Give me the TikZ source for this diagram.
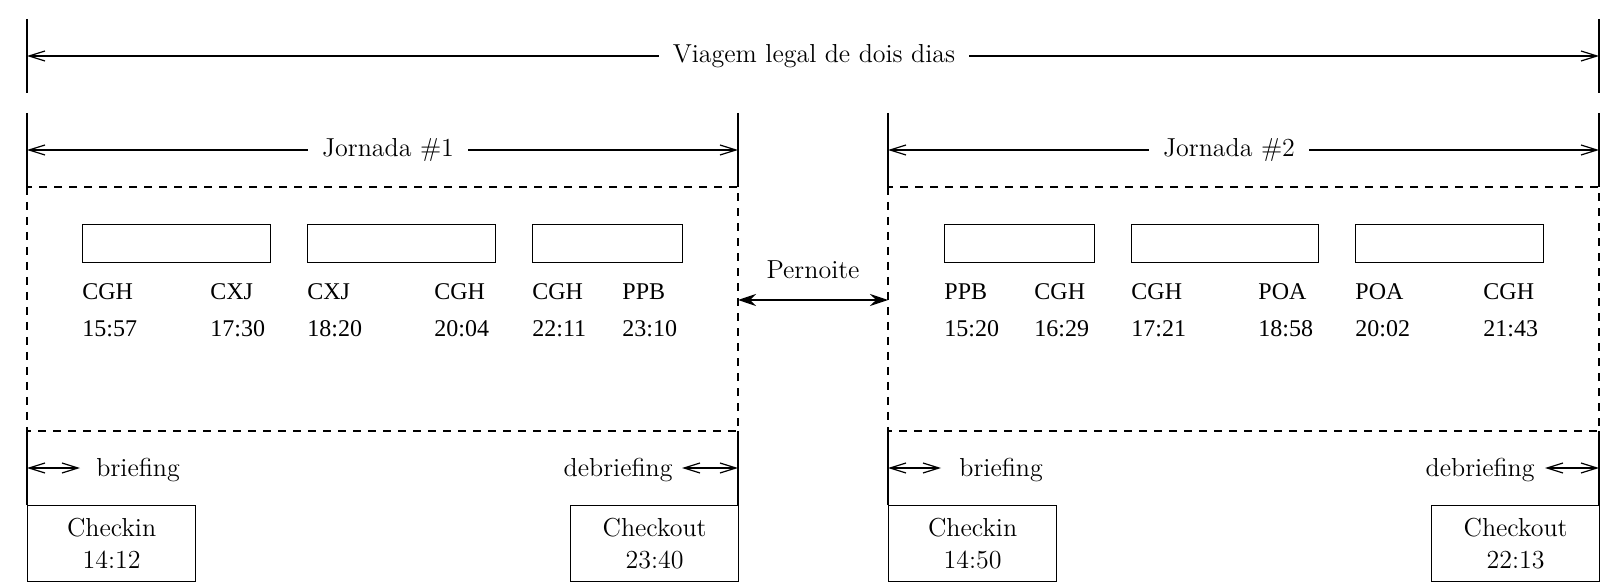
\documentclass[tikz,border=0pt]{standalone}
\usepackage{fontspec}
\newfontfamily\timesf{Liberation Serif}
\usetikzlibrary{arrows.meta}
\tikzset{
  ln/.style={line width=0.6pt},
  dim/.style={ln, {Straight Barb[length=8pt,width=5pt]}-{Straight Barb[length=8pt,width=5pt]}},
  night/.style={ln, {Stealth[length=9pt,width=6pt,inset=3pt]}-{Stealth[length=9pt,width=6pt,inset=3pt]}},
  dbox/.style={ln, dash pattern=on 4pt off 3.5pt},
  lbl/.style={font=\fontsize{13}{16}\selectfont, fill=white, inner xsep=7pt, inner ysep=2pt},
  apt/.style={font=\timesf\fontsize{12}{14}\selectfont, inner sep=0pt},
  leg/.style={draw, ln, minimum height=19pt, inner sep=0pt, anchor=north west},
  chk/.style={draw, ln, minimum width=84pt, minimum height=38pt, inner sep=0pt, align=center, anchor=north west, font=\fontsize{13}{16}\selectfont},
  brf/.style={font=\fontsize{13}{16}\selectfont, inner sep=0pt},
}
\begin{document}
\begin{tikzpicture}[x=0.5pt,y=-0.5pt]
\useasboundingbox (0,0) rectangle (1600,582);
% --- overall trip ---
\coordinate (vtl) at (27,19);   \coordinate (vbl) at (27,93);
\coordinate (vtr) at (1599,19); \coordinate (vbr) at (1599,93);
\coordinate (va) at (27,56);    \coordinate (vb) at (1599,56);
\draw[ln] (vtl) -- (vbl);
\draw[ln] (vtr) -- (vbr);
\draw[dim] (va) -- (vb);
\node[lbl] (viagem) at (814,56) {Viagem legal de dois dias};

% --- Jornada 1 ---
\coordinate (a1) at (27,113);  \coordinate (a2) at (27,187);  \coordinate (a3) at (27,431);  \coordinate (a4) at (27,505);
\coordinate (b1) at (738,113); \coordinate (b2) at (738,187); \coordinate (b3) at (738,431); \coordinate (b4) at (738,505);
\draw[ln] (a1) -- (a2);
\draw[ln] (b1) -- (b2);
\draw[dbox] (a2) rectangle (b3);
\draw[ln] (a3) -- (a4);
\draw[ln] (b3) -- (b4);
\coordinate (j1l) at (27,150); \coordinate (j1r) at (738,150);
\draw[dim] (j1l) -- (j1r);
\node[lbl] (jor1) at (388,150) {Jornada \#1};

\node[leg, minimum width=94pt] (l11) at (82,224) {};
\node[leg, minimum width=94pt] (l12) at (307,224) {};
\node[leg, minimum width=75pt] (l13) at (532,224) {};

\node[apt, anchor=base west] (c11) at (82,300) {CGH};
\node[apt, anchor=base west] (t11) at (82,337) {15:57};
\node[apt, anchor=base west] (c12) at (210,300) {CXJ};
\node[apt, anchor=base west] (t12) at (210,337) {17:30};
\node[apt, anchor=base west] (c13) at (307,300) {CXJ};
\node[apt, anchor=base west] (t13) at (307,337) {18:20};
\node[apt, anchor=base west] (c14) at (434,300) {CGH};
\node[apt, anchor=base west] (t14) at (434,337) {20:04};
\node[apt, anchor=base west] (c15) at (532,300) {CGH};
\node[apt, anchor=base west] (t15) at (532,337) {22:11};
\node[apt, anchor=base west] (c16) at (622,300) {PPB};
\node[apt, anchor=base west] (t16) at (622,337) {23:10};

\coordinate (br1a) at (27,468); \coordinate (br1b) at (80,468);
\draw[dim] (br1a) -- (br1b);
\node[brf, anchor=base west] (brief1) at (96,476) {briefing};
\coordinate (db1a) at (682,468); \coordinate (db1b) at (738,468);
\draw[dim] (db1a) -- (db1b);
\node[brf, anchor=base east] (debrief1) at (673,476) {debriefing};

\node[chk] (checkin1) at (27,505) {Checkin\\14:12};
\node[chk] (checkout1) at (570,505) {Checkout\\23:40};

% --- Pernoite ---
\coordinate (pl) at (738,300); \coordinate (pr) at (888,300);
\draw[night] (pl) -- (pr);
\node[brf] (pern) at (813,270) {Pernoite};

% --- Jornada 2 ---
\coordinate (c1) at (888,113);  \coordinate (c2) at (888,187);  \coordinate (c3) at (888,431);  \coordinate (c4) at (888,505);
\coordinate (d1) at (1599,113); \coordinate (d2) at (1599,187); \coordinate (d3) at (1599,431); \coordinate (d4) at (1599,505);
\draw[ln] (c1) -- (c2);
\draw[ln] (d1) -- (d2);
\draw[dbox] (c2) rectangle (d3);
\draw[ln] (c3) -- (c4);
\draw[ln] (d3) -- (d4);
\coordinate (j2l) at (888,150); \coordinate (j2r) at (1599,150);
\draw[dim] (j2l) -- (j2r);
\node[lbl] (jor2) at (1229,150) {Jornada \#2};

\node[leg, minimum width=75pt] (l21) at (944,224) {};
\node[leg, minimum width=93.5pt] (l22) at (1131,224) {};
\node[leg, minimum width=94pt] (l23) at (1355,224) {};

\node[apt, anchor=base west] (c21) at (944,300) {PPB};
\node[apt, anchor=base west] (t21) at (944,337) {15:20};
\node[apt, anchor=base west] (c22) at (1034,300) {CGH};
\node[apt, anchor=base west] (t22) at (1034,337) {16:29};
\node[apt, anchor=base west] (c23) at (1131,300) {CGH};
\node[apt, anchor=base west] (t23) at (1131,337) {17:21};
\node[apt, anchor=base west] (c24) at (1258,300) {POA};
\node[apt, anchor=base west] (t24) at (1258,337) {18:58};
\node[apt, anchor=base west] (c25) at (1355,300) {POA};
\node[apt, anchor=base west] (t25) at (1355,337) {20:02};
\node[apt, anchor=base west] (c26) at (1483,300) {CGH};
\node[apt, anchor=base west] (t26) at (1483,337) {21:43};

\coordinate (br2a) at (888,468); \coordinate (br2b) at (941,468);
\draw[dim] (br2a) -- (br2b);
\node[brf, anchor=base west] (brief2) at (959,476) {briefing};
\coordinate (db2a) at (1545,468); \coordinate (db2b) at (1599,468);
\draw[dim] (db2a) -- (db2b);
\node[brf, anchor=base east] (debrief2) at (1535,476) {debriefing};

\node[chk] (checkin2) at (888,505) {Checkin\\14:50};
\node[chk] (checkout2) at (1431,505) {Checkout\\22:13};
\end{tikzpicture}
\end{document}
